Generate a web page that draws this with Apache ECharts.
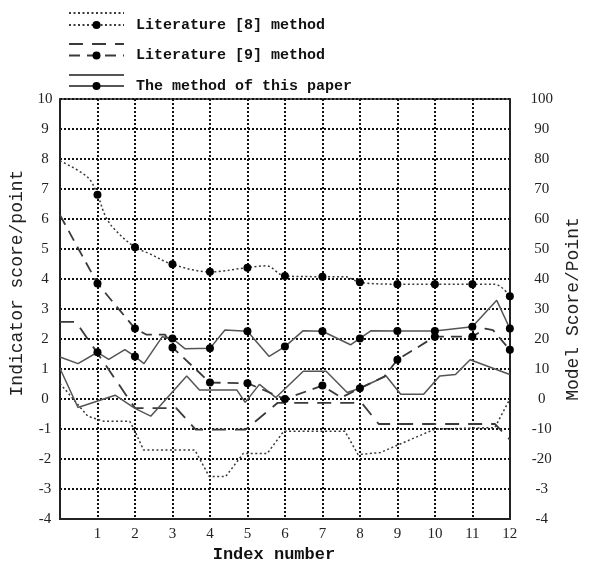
<!DOCTYPE html>
<html>
<head>
<meta charset="utf-8">
<script src="https://cdn.jsdelivr.net/npm/echarts@6/dist/echarts.min.js"></script>
<style>html,body{margin:0;padding:0;background:#fff}#c{width:590px;height:568px}</style>
</head>
<body>
<div id="c"></div>
<script>
// ---- data ----
const legendNames = ['Literature [8] method', 'Literature [9] method', 'The method of this paper'];
const indicatorNames = ['Literature [8] indicator', 'Literature [9] indicator', 'This paper indicator'];
const xTickValues = [1,2,3,4,5,6,7,8,9,10,11,12];
const rightTickValues = [-40,-30,-20,-10,0,10,20,30,40,50,60,70,80,90,100];
const rightTickLabels = ['-4','-3','-20','-10','0','10','20','30','40','50','60','70','80','90','100'];

// model scores (right axis), [index, score]
const lit8Model = [[0,79.4],[0.74,73.9],[1,68.1],[1.2,61.3],[1.43,56.9],[2,50.6],[2.38,48.5],[3,44.9],[4,42.4],[5,43.8],[5.5,44.4],[6,41.0],[7,40.8],[7.6,40.8],[8,38.9],[9,38.3],[10,38.3],[11,38.3],[11.6,38.3],[12,34.3]];
const lit9Model = [[0,61.3],[1,38.5],[2,23.5],[2.3,21.5],[2.8,21.5],[3,17.2],[4,5.5],[5,5.3],[6,0],[7,4.5],[7.5,0.5],[8,3.6],[8.65,7.5],[9,13.1],[10,20.8],[11,20.8],[11.35,23.5],[11.55,23.0],[12,16.4]];
const paperModel = [[0,14.0],[0.48,11.8],[1,15.6],[1.3,13.2],[1.73,16.5],[2,14.2],[2.24,11.8],[2.73,20.8],[3,20.2],[3.33,16.8],[4,16.9],[4.4,23.0],[5,22.6],[5.58,14.2],[6,17.5],[6.49,22.8],[7,22.6],[7.75,18.1],[8,20.2],[8.3,22.8],[9,22.7],[10,22.7],[11,24.1],[11.65,32.9],[12,23.5]];

// indicator scores (left axis), [index, score]
const lit8Ind = [[0,0.52],[0.74,-0.57],[1.17,-0.74],[1.86,-0.74],[2.0,-1.07],[2.23,-1.70],[3.6,-1.70],[3.98,-2.58],[4.42,-2.58],[4.89,-1.81],[5.53,-1.81],[5.97,-1.07],[7.6,-1.07],[7.95,-1.85],[8.55,-1.78],[10.0,-1.0],[11.6,-0.95],[12,0]];
const lit9Ind = [[0,2.57],[0.43,2.57],[2.0,-0.3],[3.1,-0.3],[3.62,-1.02],[4.95,-1.02],[5.8,-0.13],[8.05,-0.13],[8.5,-0.83],[11.6,-0.83],[12,-1.35]];
const paperInd = [[0,1.02],[0.48,-0.28],[1.47,0.13],[2.0,-0.31],[2.42,-0.57],[3.38,0.77],[3.72,0.3],[4.72,0.3],[4.94,-0.11],[5.32,0.49],[5.76,0.05],[6.49,0.93],[7.1,0.93],[7.66,0.22],[8.0,0.36],[8.7,0.77],[9.09,0.16],[9.7,0.16],[10.13,0.77],[10.55,0.82],[10.94,1.31],[12,0.82]];

// ---- chart ----
const markOnTicks = arr => arr.map(p => (xTickValues.indexOf(p[0]) >= 0) ? {value: p} : {value: p, symbol: 'none'});
const lineCol = '#3a3a3a';
const dotted = [2, 2.5];
const dashModel = [11, 7];
const dashInd = [14, 9];

const chart = echarts.init(document.getElementById('c'));
const tickFont = {fontFamily: 'Liberation Serif', fontSize: 15, color: '#222'};
chart.setOption({
  animation: false,
  backgroundColor: '#fff',
  grid: {left: 60, right: 68, top: 99, bottom: 43, show: true, borderColor: '#222', borderWidth: 1.5},
  legend: [
    {data: indicatorNames, orient: 'vertical', left: 63, top: 4, itemWidth: 55, itemHeight: 10, itemGap: 23,
     selectedMode: false, formatter: () => '', textStyle: {fontSize: 1, lineHeight: 10},
     itemStyle: {color: 'transparent', borderWidth: 0, opacity: 0}},
    {data: legendNames, orient: 'vertical', left: 63, top: 12.5, itemWidth: 55, itemHeight: 10, itemGap: 15.5,
     selectedMode: false,
     textStyle: {fontFamily: 'Liberation Mono', fontWeight: 'bold', fontSize: 15, color: '#111', padding: [0, 0, 0, 7]}}
  ],
  xAxis: {
    type: 'value', min: 0, max: 12, interval: 1,
    name: 'Index number', nameLocation: 'middle', nameGap: 23,
    nameTextStyle: {fontFamily: 'Liberation Mono', fontWeight: 'bold', fontSize: 17, color: '#111', padding: [0, 22, 0, 0]},
    axisLine: {onZero: false, lineStyle: {color: '#222', width: 2}},
    axisTick: {show: false},
    axisLabel: Object.assign({margin: 7, formatter: v => xTickValues.indexOf(v) >= 0 ? String(v) : ''}, tickFont),
    splitLine: {show: true, lineStyle: {color: '#111', width: 2, type: [2, 2]}}
  },
  yAxis: [
    {type: 'value', min: -4, max: 10, interval: 1, position: 'left',
     name: 'Indicator score/point', nameLocation: 'middle', nameGap: 28, nameRotate: 90,
     nameTextStyle: {fontFamily: 'Liberation Mono', fontSize: 18, color: '#222', padding: [0, 0, 0, 52]},
     axisLine: {show: true, onZero: false, lineStyle: {color: '#222', width: 2}},
     axisTick: {show: false},
     axisLabel: Object.assign({margin: 15, align: 'center'}, tickFont),
     splitLine: {show: true, lineStyle: {color: '#111', width: 2, type: [2, 2]}}},
    {type: 'value', min: -40, max: 100, interval: 10, position: 'right',
     name: 'Model Score/Point', nameLocation: 'middle', nameGap: 51, nameRotate: 90,
     nameTextStyle: {fontFamily: 'Liberation Mono', fontSize: 18, color: '#222'},
     axisLine: {show: true, onZero: false, lineStyle: {color: '#222', width: 2}},
     axisTick: {show: false},
     axisLabel: Object.assign({margin: 32, align: 'center',
       formatter: v => { const i = rightTickValues.indexOf(v); return i >= 0 ? rightTickLabels[i] : ''; }}, tickFont),
     splitLine: {show: false}}
  ],
  series: [
    {name: indicatorNames[0], type: 'line', yAxisIndex: 0, data: lit8Ind, symbol: 'none',
     lineStyle: {color: lineCol, width: 1.5, type: dotted}, itemStyle: {color: lineCol}},
    {name: indicatorNames[1], type: 'line', yAxisIndex: 0, data: lit9Ind, symbol: 'none',
     lineStyle: {color: lineCol, width: 1.8, type: dashInd}, itemStyle: {color: lineCol}},
    {name: indicatorNames[2], type: 'line', yAxisIndex: 0, data: paperInd, symbol: 'none',
     lineStyle: {color: '#555', width: 1.5, type: 'solid'}, itemStyle: {color: '#555'}},
    {name: legendNames[0], type: 'line', yAxisIndex: 1, data: markOnTicks(lit8Model), smooth: 0.35,
     symbol: 'circle', symbolSize: 8,
     lineStyle: {color: lineCol, width: 1.5, type: dotted}, itemStyle: {color: '#000'}},
    {name: legendNames[1], type: 'line', yAxisIndex: 1, data: markOnTicks(lit9Model),
     symbol: 'circle', symbolSize: 8,
     lineStyle: {color: lineCol, width: 1.8, type: dashModel}, itemStyle: {color: '#000'}},
    {name: legendNames[2], type: 'line', yAxisIndex: 1, data: markOnTicks(paperModel),
     symbol: 'circle', symbolSize: 8,
     lineStyle: {color: '#555', width: 1.5, type: 'solid'}, itemStyle: {color: '#000'}}
  ]
});
</script>
</body>
</html>
